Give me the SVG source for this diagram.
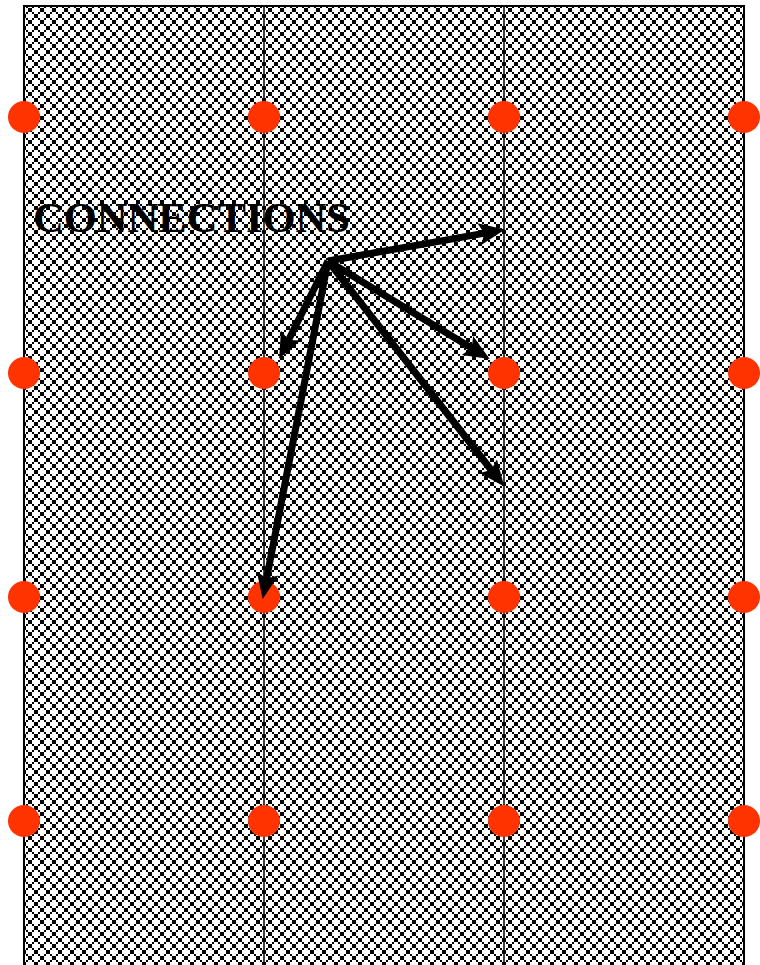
<svg xmlns="http://www.w3.org/2000/svg" width="760" height="965" viewBox="0 0 760 965">
<style>
.frame{fill:none;stroke:#000;stroke-width:2}
.div{stroke:#000;stroke-width:1.5}
.dot{fill:#ff3300}
.arrow{stroke:#000;stroke-width:7;fill:none;marker-end:url(#head)}
.label{font-family:"Liberation Serif","Times New Roman",serif;font-weight:bold;font-size:42px;fill:#000}
</style>
<defs>
<pattern id="hatch" patternUnits="userSpaceOnUse" x="0" y="4" width="12" height="12">
<path d="M0,0h2v2h-2z M2,2h2v2h-2z M4,4h2v2h-2z M6,6h2v2h-2z M8,8h2v2h-2z M10,10h2v2h-2z M10,0h2v2h-2z M8,2h2v2h-2z M6,4h2v2h-2z M4,6h2v2h-2z M2,8h2v2h-2z M0,10h2v2h-2z" fill="#000" shape-rendering="crispEdges"/>
</pattern>
<marker id="head" markerUnits="userSpaceOnUse" markerWidth="28" markerHeight="24" viewBox="0 0 28 24" refX="10" refY="12" orient="auto">
<path d="M0,1 L26,12 L0,23 L5,12 z" fill="#000"/>
</marker>
</defs>
<g id="background">
<rect x="24" y="6" width="720" height="960" fill="#fff"/>
<rect x="24" y="6" width="720" height="960" fill="url(#hatch)"/>
<path class="frame" d="M24,966 V6 H744 V966"/>
<line class="div" x1="264" y1="6" x2="264" y2="966"/>
<line class="div" x1="504" y1="6" x2="504" y2="966"/>
</g>
<g id="dots">
<circle class="dot" cx="24" cy="117" r="16"/><circle class="dot" cx="264" cy="117" r="16"/><circle class="dot" cx="504" cy="117" r="16"/><circle class="dot" cx="744" cy="117" r="16"/>
<circle class="dot" cx="24" cy="373" r="16"/><circle class="dot" cx="264" cy="373" r="16"/><circle class="dot" cx="504" cy="373" r="16"/><circle class="dot" cx="744" cy="373" r="16"/>
<circle class="dot" cx="24" cy="597" r="16"/><circle class="dot" cx="264" cy="597" r="16"/><circle class="dot" cx="504" cy="597" r="16"/><circle class="dot" cx="744" cy="597" r="16"/>
<circle class="dot" cx="24" cy="821" r="16"/><circle class="dot" cx="264" cy="821" r="16"/><circle class="dot" cx="504" cy="821" r="16"/><circle class="dot" cx="744" cy="821" r="16"/>
</g>
<g id="title">
<text class="label" x="33" y="232" textLength="317" lengthAdjust="spacingAndGlyphs">CONNECTIONS</text>
</g>
<g id="connectors">
<line class="arrow" x1="328" y1="261" x2="489.2" y2="232.4"/>
<line class="arrow" x1="328" y1="261" x2="286.3" y2="344.5"/>
<line class="arrow" x1="328" y1="261" x2="476" y2="350.7"/>
<line class="arrow" x1="328" y1="261" x2="494.4" y2="474"/>
<line class="arrow" x1="328" y1="261" x2="265.7" y2="583.3"/>
</g>
</svg>
